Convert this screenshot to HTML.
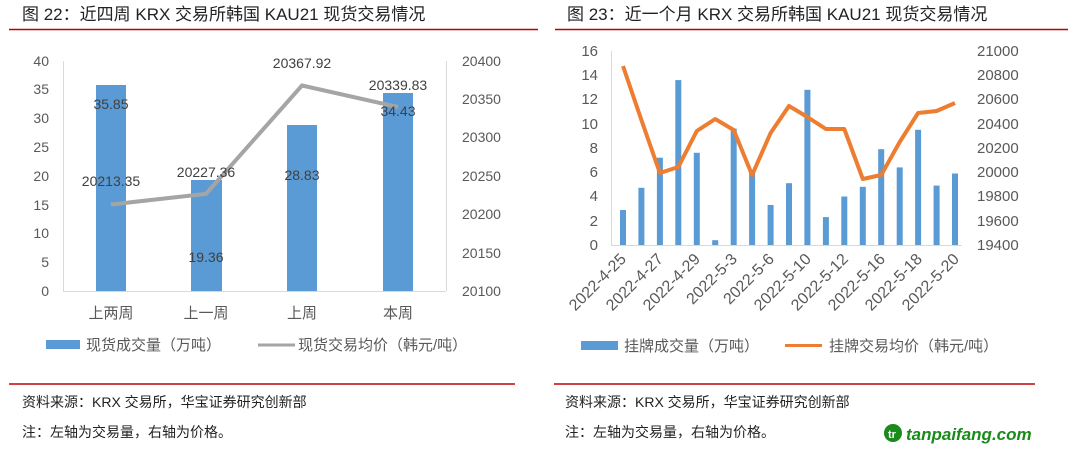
<!DOCTYPE html>
<html><head><meta charset="utf-8"><style>
body{margin:0;background:#fff;}
svg{display:block;font-family:"Liberation Sans","Noto Sans CJK SC",sans-serif;}
</style></head><body>
<svg width="1080" height="453" viewBox="0 0 1080 453" xmlns="http://www.w3.org/2000/svg">
<text x="22" y="20" font-size="17" fill="#222">图 22：近四周 KRX 交易所韩国 KAU21 现货交易情况</text>
<text x="567" y="20" font-size="17" fill="#222">图 23：近一个月 KRX 交易所韩国 KAU21 现货交易情况</text>
<line x1="9" y1="29.5" x2="538" y2="29.5" stroke="#c00000" stroke-width="1.5"/>
<line x1="555" y1="29.5" x2="1068" y2="29.5" stroke="#c00000" stroke-width="1.5"/>

<g font-size="14" fill="#595959">
<line x1="63.5" y1="61" x2="63.5" y2="291" stroke="#d9d9d9"/>
<line x1="446.5" y1="61" x2="446.5" y2="291" stroke="#d9d9d9"/>
<line x1="63" y1="291.5" x2="446" y2="291.5" stroke="#d9d9d9"/>
<g text-anchor="end">
<text x="49" y="296">0</text><text x="49" y="267">5</text><text x="49" y="238">10</text><text x="49" y="210">15</text>
<text x="49" y="181">20</text><text x="49" y="152">25</text><text x="49" y="123">30</text><text x="49" y="94">35</text><text x="49" y="66">40</text>
</g>
<g>
<text x="462" y="296">20100</text><text x="462" y="258">20150</text><text x="462" y="219">20200</text><text x="462" y="181">20250</text>
<text x="462" y="142">20300</text><text x="462" y="104">20350</text><text x="462" y="66">20400</text>
</g>
<g fill="#5b9bd5">
<rect x="96" y="85" width="30" height="206"/>
<rect x="191" y="180" width="31" height="111"/>
<rect x="287" y="125" width="30" height="166"/>
<rect x="383" y="93" width="30" height="198"/>
</g>
<polyline points="111,204.5 206,193.8 302,85.5 398,107" fill="none" stroke="#a5a5a5" stroke-width="4"/>
<g text-anchor="middle" fill="#404040">
<text x="111" y="109">35.85</text>
<text x="206" y="262">19.36</text>
<text x="302" y="180">28.83</text>
<text x="398" y="116">34.43</text>
<text x="111" y="186">20213.35</text>
<text x="206" y="177">20227.36</text>
<text x="302" y="68">20367.92</text>
<text x="398" y="90">20339.83</text>
</g>
<g text-anchor="middle" font-size="15">
<text x="111" y="318">上两周</text><text x="206" y="318">上一周</text><text x="302" y="318">上周</text><text x="398" y="318">本周</text>
</g>
<rect x="46" y="340" width="34" height="9" fill="#5b9bd5"/>
<text x="86" y="350" font-size="15">现货成交量（万吨）</text>
<line x1="258" y1="345" x2="295" y2="345" stroke="#a5a5a5" stroke-width="3"/>
<text x="298" y="350" font-size="15">现货交易均价（韩元/吨）</text>
</g>

<g font-size="15" fill="#595959">
<line x1="611.5" y1="51" x2="611.5" y2="245" stroke="#d9d9d9"/>
<line x1="611" y1="245.5" x2="962" y2="245.5" stroke="#d9d9d9"/>
<g text-anchor="end">
<text x="598" y="250">0</text><text x="598" y="226">2</text><text x="598" y="201">4</text><text x="598" y="177">6</text>
<text x="598" y="153">8</text><text x="598" y="129">10</text><text x="598" y="104">12</text><text x="598" y="80">14</text><text x="598" y="56">16</text>
</g>
<g>
<text x="977" y="250">19400</text><text x="977" y="226">19600</text><text x="977" y="201">19800</text><text x="977" y="177">20000</text>
<text x="977" y="153">20200</text><text x="977" y="129">20400</text><text x="977" y="104">20600</text><text x="977" y="80">20800</text><text x="977" y="56">21000</text>
</g>
<g fill="#5b9bd5">
<rect x="620" y="210" width="6" height="35"/>
<rect x="638.4" y="187.8" width="6" height="57.2"/>
<rect x="656.9" y="157.7" width="6" height="87.3"/>
<rect x="675.3" y="80.1" width="6" height="164.9"/>
<rect x="693.8" y="152.8" width="6" height="92.2"/>
<rect x="712.2" y="240.2" width="6" height="4.8"/>
<rect x="730.7" y="128.6" width="6" height="116.4"/>
<rect x="749.1" y="172.3" width="6" height="72.7"/>
<rect x="767.6" y="205" width="6" height="40"/>
<rect x="786" y="183.2" width="6" height="61.8"/>
<rect x="804.4" y="89.8" width="6" height="155.2"/>
<rect x="822.9" y="217.1" width="6" height="27.9"/>
<rect x="841.3" y="196.5" width="6" height="48.5"/>
<rect x="859.8" y="186.8" width="6" height="58.2"/>
<rect x="878.2" y="149.2" width="6" height="95.8"/>
<rect x="896.7" y="167.4" width="6" height="77.6"/>
<rect x="915.1" y="129.8" width="6" height="115.2"/>
<rect x="933.6" y="185.6" width="6" height="59.4"/>
<rect x="952" y="173.5" width="6" height="71.5"/>
</g>
<polyline points="623,66 641.4,120 659.9,173 678.3,167 696.8,131 715.2,119 733.7,130 752.1,175 770.6,133 789,106 807.4,117 825.9,129 844.3,129 862.8,179 881.2,175 899.7,142 918.1,113 936.6,111 955,103" fill="none" stroke="#ed7d31" stroke-width="4" stroke-linejoin="round"/>
<g text-anchor="end" font-size="16">
<text transform="translate(627,260) rotate(-45)">2022-4-25</text>
<text transform="translate(664,260) rotate(-45)">2022-4-27</text>
<text transform="translate(701,260) rotate(-45)">2022-4-29</text>
<text transform="translate(738,260) rotate(-45)">2022-5-3</text>
<text transform="translate(775,260) rotate(-45)">2022-5-6</text>
<text transform="translate(812,260) rotate(-45)">2022-5-10</text>
<text transform="translate(849,260) rotate(-45)">2022-5-12</text>
<text transform="translate(886,260) rotate(-45)">2022-5-16</text>
<text transform="translate(923,260) rotate(-45)">2022-5-18</text>
<text transform="translate(960,260) rotate(-45)">2022-5-20</text>
</g>
<rect x="581" y="341" width="37" height="9" fill="#5b9bd5"/>
<text x="624" y="351" font-size="15">挂牌成交量（万吨）</text>
<line x1="785" y1="345.5" x2="822" y2="345.5" stroke="#ed7d31" stroke-width="3"/>
<text x="829" y="351" font-size="15">挂牌交易均价（韩元/吨）</text>
</g>

<line x1="9" y1="384" x2="515" y2="384" stroke="#c00000" stroke-width="1.5"/>
<line x1="554" y1="384" x2="1035" y2="384" stroke="#c00000" stroke-width="1.5"/>
<g font-size="14" fill="#222">
<text x="22" y="407">资料来源：KRX 交易所，华宝证券研究创新部</text>
<text x="22" y="437">注：左轴为交易量，右轴为价格。</text>
<text x="565" y="407">资料来源：KRX 交易所，华宝证券研究创新部</text>
<text x="565" y="437">注：左轴为交易量，右轴为价格。</text>
</g>
<circle cx="893" cy="433" r="9" fill="#1a8a1a"/>
<text x="888" y="438" font-size="11" font-weight="bold" fill="#fff">tr</text>
<text x="906" y="440" font-size="17" font-weight="bold" font-style="italic" fill="#1a8a1a">tanpaifang.com</text>
</svg>
</body></html>
